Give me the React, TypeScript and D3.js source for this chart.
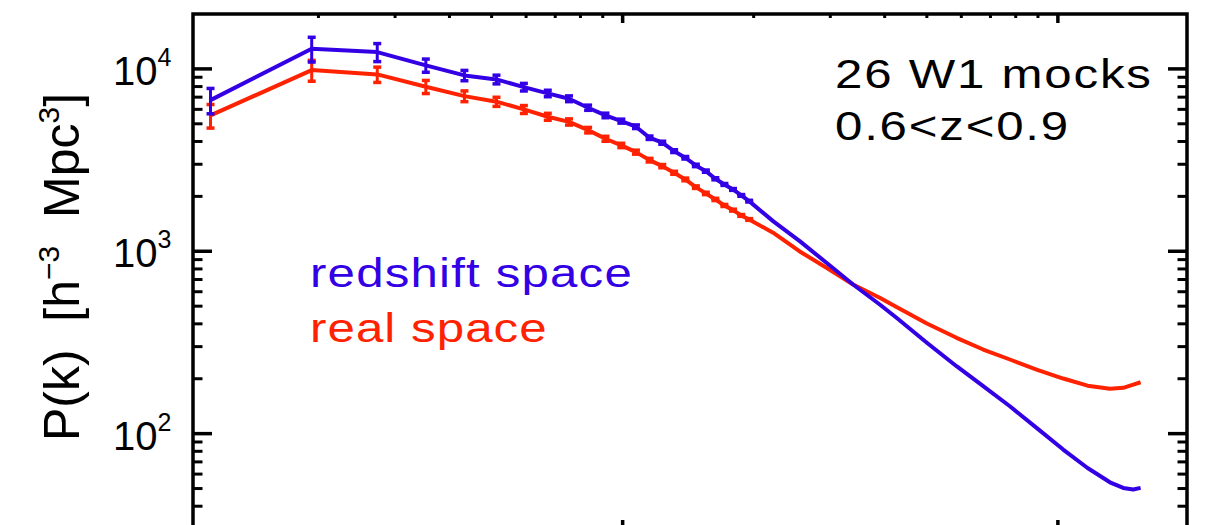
import React from 'react';
import * as d3 from 'd3';

// Binned power spectrum (mean of the mocks) with its scatter
const kBins = [
  0.0113, 0.0193, 0.0273, 0.0353, 0.0433, 0.0513, 0.0593, 0.0673, 0.0753, 0.0833,
  0.0913, 0.0993, 0.1073, 0.1153, 0.1233, 0.1313, 0.1393, 0.1473, 0.1553, 0.1633,
  0.1713, 0.1793, 0.1873, 0.1953,
];
const pRedshiftBins = [
  6743, 12905, 12365, 10452, 9211, 8757, 7947, 7337, 6862, 6128,
  5557, 5172, 4819, 4194, 3937, 3541, 3257, 2956, 2750, 2498,
  2325, 2183, 2024, 1883,
];
const errRedshiftBins = [
  1070, 2000, 1400, 870, 600, 480, 380, 300, 250, 200,
  160, 130, 110, 90, 75, 62, 52, 45, 38, 33,
  28, 25, 22, 20,
];
const pRealBins = [
  5557, 9849, 9328, 7987, 7092, 6610, 5995, 5467, 5120, 4617,
  4141, 3805, 3496, 3160, 2930, 2695, 2477, 2247, 2076, 1924,
  1783, 1681, 1572, 1494,
];
const errRealBins = [
  820, 1290, 900, 660, 480, 380, 300, 240, 200, 160,
  130, 105, 88, 72, 60, 50, 42, 36, 31, 27,
  23, 20, 18, 16,
];

// Small-scale continuation, drawn without error bars
const kTail = [
  0.2216, 0.2552, 0.294, 0.3384, 0.3897, 0.4258, 0.5, 0.585, 0.6736, 0.7757,
  0.8934, 1.0285, 1.17, 1.317, 1.413, 1.49, 1.549,
];
const pRedshiftTail = [
  1463, 1136, 864.8, 657.5, 510.8, 431.8, 315, 234.3, 182.0, 141.3,
  107.6, 81.8, 64.8, 54.1, 50.4, 49.4, 50.4,
];
const pRealTail = [
  1264, 997.5, 812, 657.5, 555.7, 494.8, 401.8, 335.4, 289.3, 255.0,
  224.7, 200.5, 183.3, 176.1, 178.3, 185.9, 191.4,
];

const yMajorTicks = [100, 1000, 10000];
const yMajorExponents = ['2', '3', '4'];
const xMajorTicks = [0.1, 1];
const annotationLines = ['26 W1 mocks', '0.6<z<0.9'];
const legendLabels = ['redshift space', 'real space'];

const W = 1206;
const H = 525;
const frame = { left: 193, right: 1187, top: 14, bottom: 529 };
const kDomain: [number, number] = [0.0103, 1.98];
const pDomain: [number, number] = [30, 20000];

const BLUE = '#3300e6';
const RED = '#ff2200';
const FONT = '"Liberation Sans", Arial, Helvetica, sans-serif';
// the plot lettering is a wide sans; stretch it horizontally
const TEXT_STRETCH = 1.2;

export default function App() {
  const x = d3.scaleLog().domain(kDomain).range([frame.left, frame.right]);
  const y = d3.scaleLog().domain(pDomain).range([frame.bottom, frame.top]);

  const line = d3
    .line<[number, number]>()
    .x((d) => x(d[0]))
    .y((d) => y(d[1]));

  const redshiftPts: [number, number][] = [
    ...kBins.map((k, i) => [k, pRedshiftBins[i]] as [number, number]),
    ...kTail.map((k, i) => [k, pRedshiftTail[i]] as [number, number]),
  ];
  const realPts: [number, number][] = [
    ...kBins.map((k, i) => [k, pRealBins[i]] as [number, number]),
    ...kTail.map((k, i) => [k, pRealTail[i]] as [number, number]),
  ];

  // minor ticks on log axes
  const decadeMinors = (lo: number, hi: number) => {
    const out: number[] = [];
    for (let e = Math.floor(Math.log10(lo)); e <= Math.ceil(Math.log10(hi)); e++) {
      for (let m = 2; m <= 9; m++) {
        const v = m * Math.pow(10, e);
        if (v > lo * 1.0001 && v < hi * 0.9999) out.push(v);
      }
    }
    return out;
  };
  const yMinor = decadeMinors(pDomain[0], pDomain[1]);
  const xMinor = decadeMinors(kDomain[0], kDomain[1]);

  const axisW = 3.5;
  const yMajLen = 19;
  const yMinLen = 9.5;
  const xMajLen = 9;
  const xMinLen = 4;

  const errorBars = (p: number[], err: number[], color: string) =>
    kBins.map((k, i) => {
      const cx = x(k);
      const y1 = y(p[i] - err[i]);
      const y2 = y(p[i] + err[i]);
      return (
        <g key={i} stroke={color} strokeWidth={3}>
          <line x1={cx} x2={cx} y1={y1} y2={y2} />
          <line x1={cx - 4} x2={cx + 4} y1={y1} y2={y1} strokeWidth={3.5} />
          <line x1={cx - 4} x2={cx + 4} y1={y2} y2={y2} strokeWidth={3.5} />
        </g>
      );
    });

  return (
    <svg
      width={W}
      height={H}
      viewBox={`0 0 ${W} ${H}`}
      style={{ position: 'absolute', left: 0, top: 0, background: '#fff' }}
      fontFamily={FONT}
    >
      <rect x={0} y={0} width={W} height={H} fill="#fff" />

      {/* data */}
      <path d={line(realPts) ?? ''} fill="none" stroke={RED} strokeWidth={4} strokeLinejoin="round" />
      <path d={line(redshiftPts) ?? ''} fill="none" stroke={BLUE} strokeWidth={4} strokeLinejoin="round" />
      {errorBars(pRealBins, errRealBins, RED)}
      {errorBars(pRedshiftBins, errRedshiftBins, BLUE)}

      {/* frame */}
      <g stroke="#000" fill="none">
        <rect
          x={frame.left}
          y={frame.top}
          width={frame.right - frame.left}
          height={frame.bottom - frame.top}
          strokeWidth={axisW}
        />
        {yMajorTicks.map((v) => (
          <g key={`ym${v}`} strokeWidth={3.5}>
            <line x1={frame.left} x2={frame.left + yMajLen} y1={y(v)} y2={y(v)} />
            <line x1={frame.right} x2={frame.right - yMajLen} y1={y(v)} y2={y(v)} />
          </g>
        ))}
        {yMinor.map((v) => (
          <g key={`yn${v}`} strokeWidth={3}>
            <line x1={frame.left} x2={frame.left + yMinLen} y1={y(v)} y2={y(v)} />
            <line x1={frame.right} x2={frame.right - yMinLen} y1={y(v)} y2={y(v)} />
          </g>
        ))}
        {xMajorTicks.map((v) => (
          <g key={`xm${v}`} strokeWidth={3.5}>
            <line x1={x(v)} x2={x(v)} y1={frame.top} y2={frame.top + xMajLen} />
            <line x1={x(v)} x2={x(v)} y1={frame.bottom} y2={frame.bottom - xMajLen} />
          </g>
        ))}
        {xMinor.map((v) => (
          <g key={`xn${v}`} strokeWidth={3}>
            <line x1={x(v)} x2={x(v)} y1={frame.top} y2={frame.top + xMinLen} />
            <line x1={x(v)} x2={x(v)} y1={frame.bottom} y2={frame.bottom - xMinLen} />
          </g>
        ))}
      </g>

      {/* y tick labels */}
      {yMajorTicks.map((v, i) => (
        <text key={`yl${v}`} x={113} y={y(v) + 16} fontSize={40} fill="#000">
          10
          <tspan dy={-19} fontSize={25}>
            {yMajorExponents[i]}
          </tspan>
        </text>
      ))}

      {/* y axis title */}
      <text
        transform={`translate(79, 267) rotate(-90)`}
        textAnchor="middle"
        fontSize={50}
        fill="#000"
        style={{ whiteSpace: 'pre' }}
      >
        {'P(k)  [h'}
        <tspan dy={-20} fontSize={30}>
          {'\u22123'}
        </tspan>
        <tspan dy={20}>{'  Mpc'}</tspan>
        <tspan dy={-20} fontSize={30}>
          3
        </tspan>
        <tspan dy={20}>]</tspan>
      </text>

      {/* annotation */}
      {annotationLines.map((t, i) => (
        <text
          key={t}
          transform={`translate(835, ${88 + i * 52}) scale(${TEXT_STRETCH}, 1)`}
          fontSize={41}
          letterSpacing={1.5}
          fill="#000"
        >
          {t}
        </text>
      ))}

      {/* legend */}
      <text
        transform={`translate(310, 287) scale(${TEXT_STRETCH}, 1)`}
        fontSize={41}
        letterSpacing={1}
        fill={BLUE}
      >
        {legendLabels[0]}
      </text>
      <text
        transform={`translate(310, 342) scale(${TEXT_STRETCH}, 1)`}
        fontSize={41}
        letterSpacing={0.9}
        fill={RED}
      >
        {legendLabels[1]}
      </text>
    </svg>
  );
}
